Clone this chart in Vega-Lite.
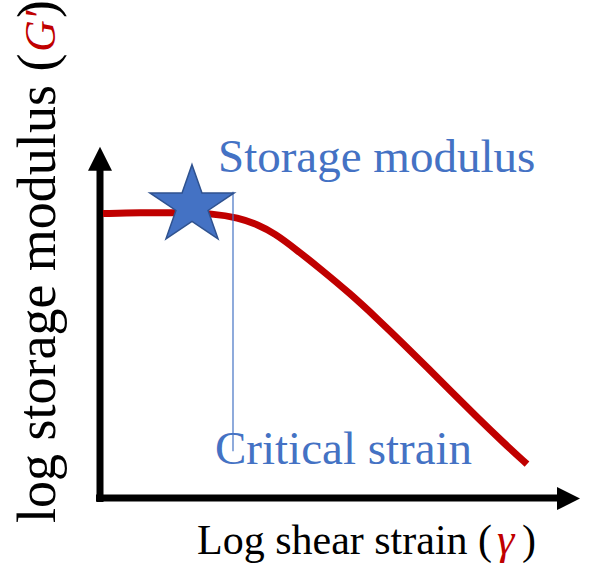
{
  "$schema": "https://vega.github.io/schema/vega-lite/v6.json",
  "autosize": {"type": "fit", "contains": "padding"},
  "width": 590,
  "height": 563,
  "padding": 0,
  "config": {"view": {"stroke": null}},
  "encoding": {
    "x": {"field": "x", "type": "quantitative", "scale": {"domain": [0, 590], "nice": false, "zero": false}, "axis": null},
    "y": {"field": "y", "type": "quantitative", "scale": {"domain": [0, 563], "reverse": true, "nice": false, "zero": false}, "axis": null}
  },
  "layer": [
    {
      "data": {"values": [
        {"x": 100, "y": 165, "x2": 100, "y2": 503},
        {"x": 96, "y": 499, "x2": 560, "y2": 499}
      ]},
      "mark": {"type": "rule", "color": "#000000", "strokeWidth": 7, "strokeCap": "butt"},
      "encoding": {"x2": {"field": "x2"}, "y2": {"field": "y2"}}
    },
    {
      "data": {"values": [{"x": 100, "y": 159}]},
      "mark": {"type": "point", "shape": "M0,-1L1,1L-1,1Z", "size": 576, "filled": true, "color": "#000000", "opacity": 1}
    },
    {
      "data": {"values": [{"x": 568.5, "y": 499.5}]},
      "mark": {"type": "point", "shape": "M1,0L-1,-1L-1,1Z", "size": 529, "filled": true, "color": "#000000", "opacity": 1}
    },
    {
      "data": {"values": [
        {"x": 103, "y": 214},
        {"x": 140, "y": 213},
        {"x": 180, "y": 213},
        {"x": 213, "y": 214},
        {"x": 238, "y": 218},
        {"x": 258, "y": 225},
        {"x": 275, "y": 234},
        {"x": 295, "y": 249},
        {"x": 320, "y": 269},
        {"x": 350, "y": 294},
        {"x": 377, "y": 319},
        {"x": 403, "y": 344},
        {"x": 428, "y": 369},
        {"x": 453, "y": 394},
        {"x": 478, "y": 419},
        {"x": 503, "y": 443},
        {"x": 527, "y": 465}
      ]},
      "mark": {"type": "line", "color": "#C00000", "strokeWidth": 7, "interpolate": "basis", "strokeCap": "butt"},
      "encoding": {"order": {"field": "x", "type": "quantitative"}}
    },
    {
      "data": {"values": [{"x": 233, "y": 192, "y2": 452}]},
      "mark": {"type": "rule", "color": "#4472C4", "strokeWidth": 1.2},
      "encoding": {"y2": {"field": "y2"}}
    },
    {
      "data": {"values": [{"x": 192, "y": 206}]},
      "mark": {"type": "point", "shape": "M0,-1L0.243,-0.309L1.027,-0.309L0.392,0.118L0.635,0.809L0,0.382L-0.635,0.809L-0.392,0.118L-1.027,-0.309L-0.243,-0.309Z", "size": 6724, "filled": true, "fill": "#4472C4", "stroke": "#2F528F", "strokeWidth": 1.5, "opacity": 1, "fillOpacity": 1, "strokeOpacity": 1}
    },
    {
      "data": {"values": [
        {"x": 218, "y": 172, "label": "Storage modulus"},
        {"x": 215, "y": 465, "label": "Critical strain"}
      ]},
      "mark": {"type": "text", "font": "Liberation Serif", "fontSize": 47, "color": "#4472C4", "align": "left", "baseline": "alphabetic"},
      "encoding": {"text": {"field": "label"}}
    },
    {
      "data": {"values": [
        {"x": 197, "y": 555, "label": "Log shear strain ("},
        {"x": 522, "y": 555, "label": ")"}
      ]},
      "mark": {"type": "text", "font": "Liberation Serif", "fontSize": 42, "color": "#000000", "align": "left", "baseline": "alphabetic"},
      "encoding": {"text": {"field": "label"}}
    },
    {
      "data": {"values": [{"x": 497, "y": 555, "label": "γ"}]},
      "mark": {"type": "text", "font": "Liberation Serif", "fontSize": 44, "fontStyle": "italic", "color": "#C00000", "align": "left", "baseline": "alphabetic"},
      "encoding": {"text": {"field": "label"}}
    },
    {
      "data": {"values": [
        {"x": 55, "y": 524, "label": "log storage modulus ("},
        {"x": 55, "y": 18, "label": ")"}
      ]},
      "mark": {"type": "text", "font": "Liberation Serif", "fontSize": 54, "angle": 270, "color": "#000000", "align": "left", "baseline": "alphabetic"},
      "encoding": {"text": {"field": "label"}}
    },
    {
      "data": {"values": [{"x": 55, "y": 52, "label": "G′"}]},
      "mark": {"type": "text", "font": "Liberation Serif", "fontSize": 44, "fontStyle": "italic", "angle": 270, "color": "#C00000", "align": "left", "baseline": "alphabetic"},
      "encoding": {"text": {"field": "label"}}
    }
  ]
}
